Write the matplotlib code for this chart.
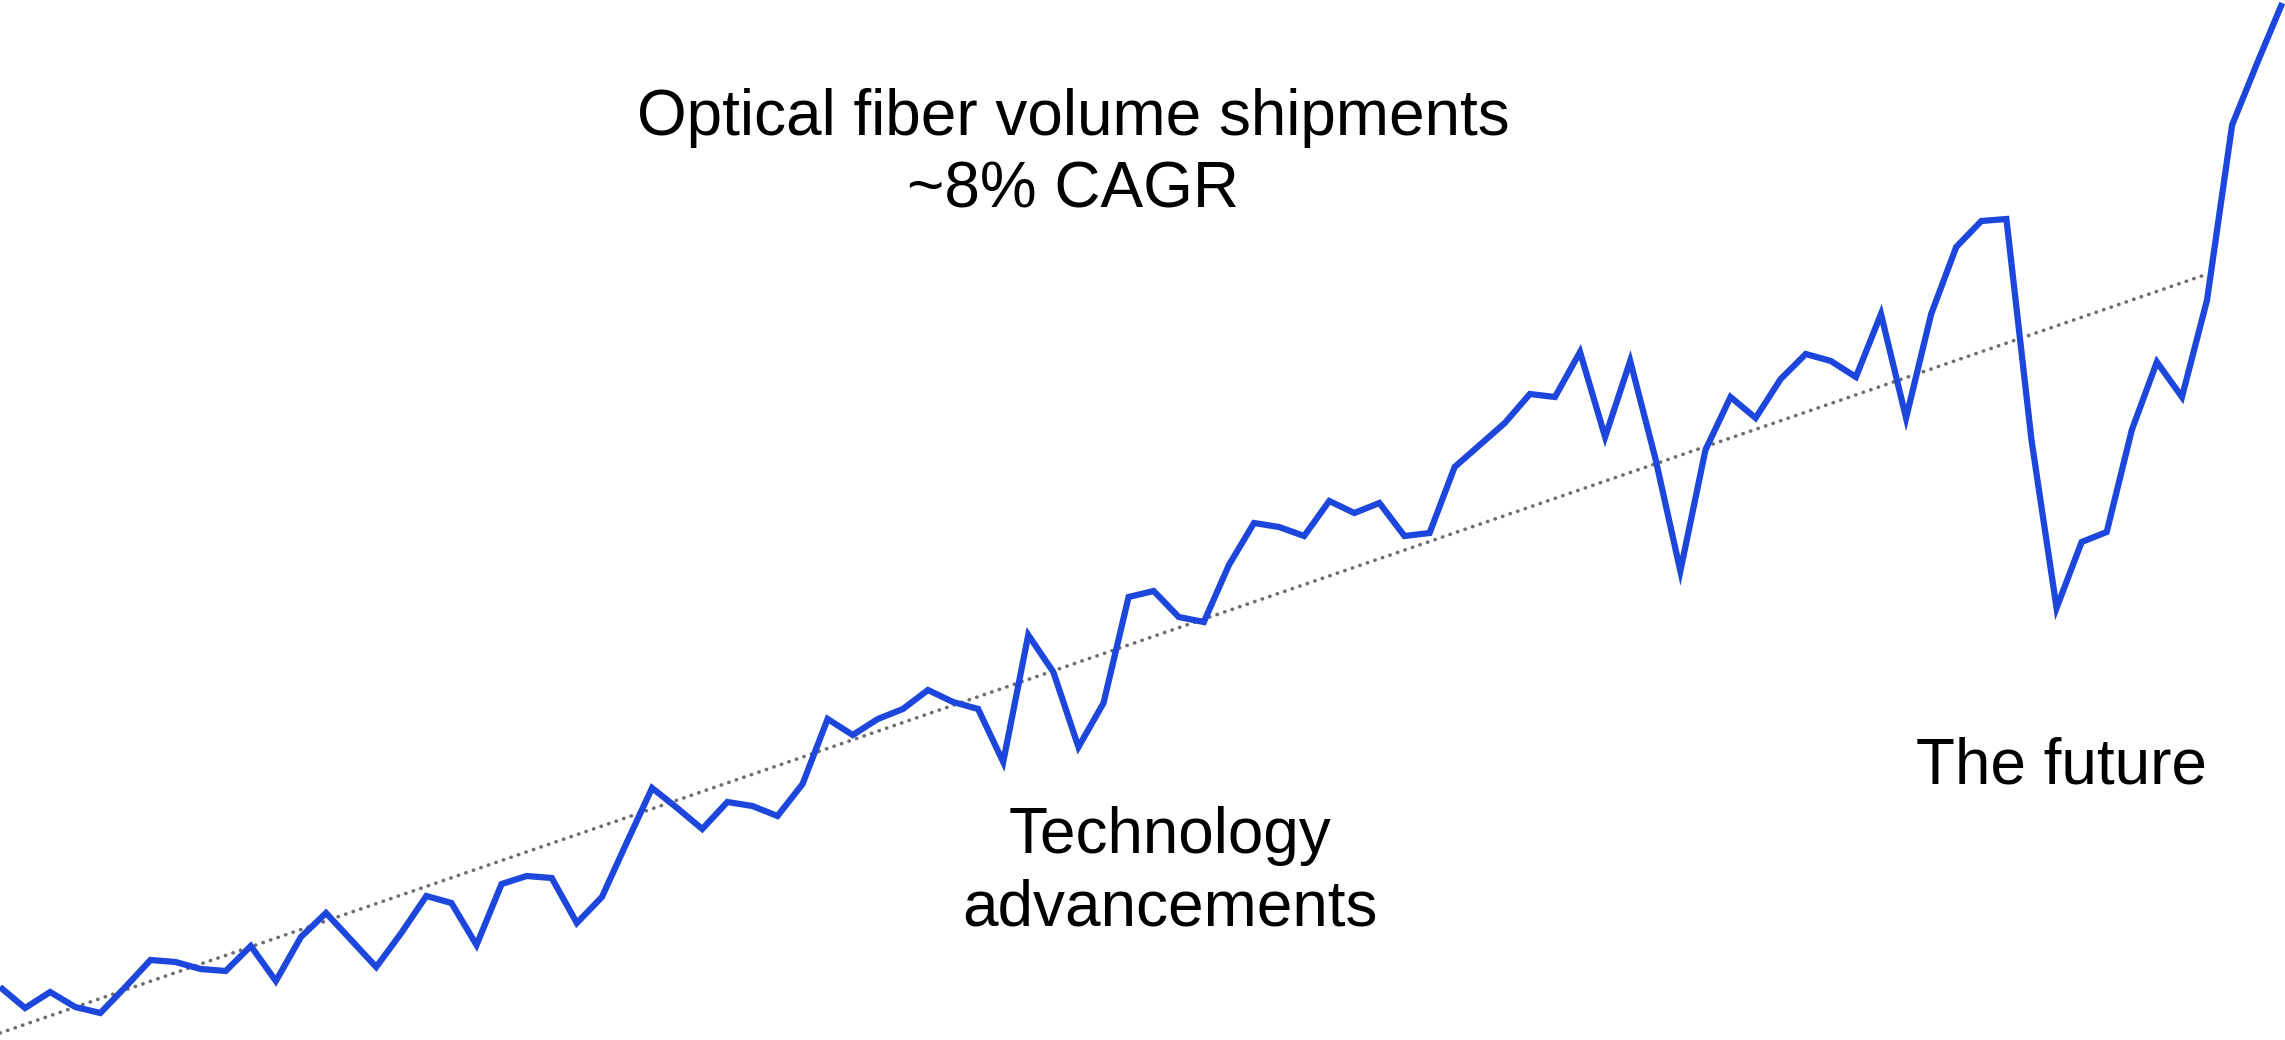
import matplotlib.pyplot as plt

# quarter index and shipment volume (relative units)
quarters = list(range(92))
volume = [5.3, 3.2, 4.8, 3.3, 2.7, 5.3, 8.0, 7.8, 7.1, 6.9,
          9.4, 5.9, 10.3, 12.7, 10.0, 7.3, 10.7, 14.4, 13.7, 9.5,
          15.6, 16.4, 16.2, 11.7, 14.3, 19.8, 25.2, 23.2, 21.1, 23.8,
          23.4, 22.4, 25.6, 32.1, 30.5, 32.1, 33.1, 35.0, 33.8, 33.1,
          27.8, 40.5, 36.8, 29.3, 33.7, 44.3, 44.9, 42.3, 41.8, 47.5,
          51.7, 51.3, 50.4, 53.9, 52.7, 53.7, 50.4, 50.7, 57.3, 59.5,
          61.7, 64.6, 64.3, 68.8, 60.3, 67.9, 58.2, 46.9, 59.0, 64.3,
          62.2, 66.1, 68.6, 67.9, 66.3, 72.6, 62.2, 72.6, 79.3, 81.9,
          82.1, 60.0, 43.2, 49.8, 50.8, 61.0, 67.8, 64.3, 74.0, 91.5,
          97.7, 103.7]

# trend line (~8% CAGR)
trend_x = [0, 87.9]
trend_y = [0.7, 76.5]

plt.rcParams['font.family'] = ['Liberation Sans', 'DejaVu Sans']

fig = plt.figure(figsize=(22.85, 10.4), dpi=100)
ax = fig.add_axes([0, 0, 1, 1])

ax.plot(trend_x, trend_y, color="#6f6f6f", linewidth=2.6,
        linestyle=(0, (0.1, 2.1)), dash_capstyle="round")
ax.plot(quarters, volume, color="#1d47dc", linewidth=4.5,
        solid_joinstyle="miter", solid_capstyle="butt")

ax.text(42.8, 88.6, "Optical fiber volume shipments\n~8% CAGR",
        ha="center", va="center", fontsize=46, linespacing=1.27)
ax.text(46.65, 16.8, "Technology\nadvancements",
        ha="center", va="center", fontsize=46, linespacing=1.27)
ax.text(82.2, 27.4, "The future",
        ha="center", va="center", fontsize=46)

ax.set_xlim(0, 2285 / 25.08)
ax.set_ylim(0, 104)
ax.axis("off")

fig.savefig("out.png", dpi=100)
